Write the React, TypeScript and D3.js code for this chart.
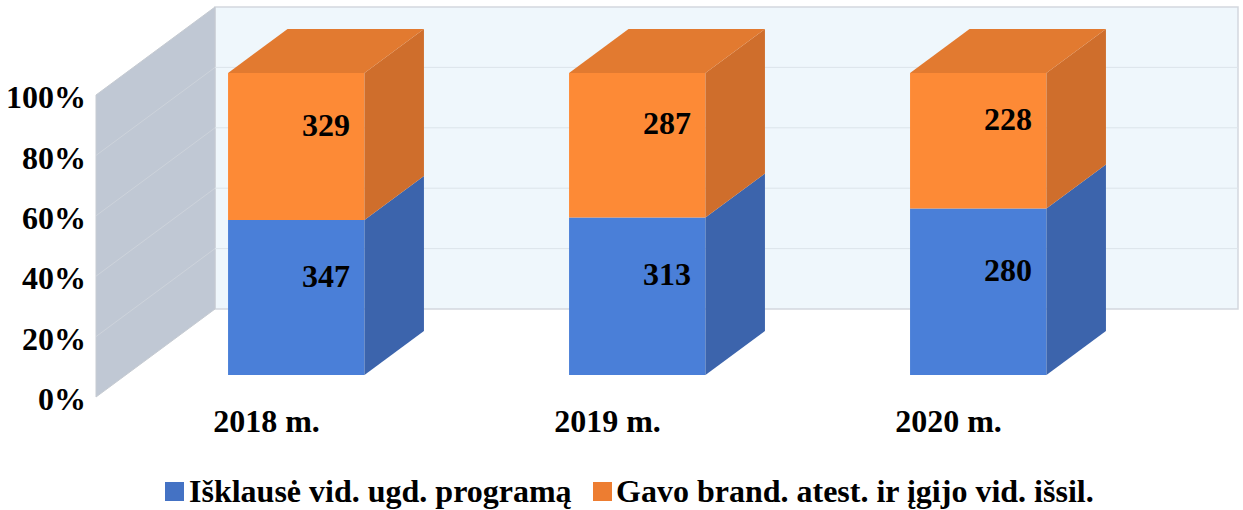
import React from 'react'
import * as d3 from 'd3'

const categories = ['2018 m.', '2019 m.', '2020 m.']
const completedProgram = [347, 313, 280]
const gotCertificate = [329, 287, 228]
const seriesNames = ['Išklausė vid. ugd. programą', 'Gavo brand. atest. ir įgijo vid. išsil.']
const yTicks = [0, 0.2, 0.4, 0.6, 0.8, 1]

const W = 1243
const H = 510
// oblique depth of the whole plot box (z = 0 front, z = 1 back)
const depthX = 119
const depthY = 88
const barZ0 = 0.25
const barZ1 = 0.75

const colors = {
  blue: { front: '#4A7FD8', side: '#3C64AC', top: '#4373C4' },
  orange: { front: '#FD8A36', side: '#CF6E2C', top: '#E27A30' },
}

const txt = { fontFamily: 'Liberation Serif', fontWeight: 700, fontSize: '32px', fill: '#000' }

const App = () => {
  const x = d3.scaleBand<string>()
      .domain(categories)
      .range([96, 1119])
      .paddingInner(0.6)
      .paddingOuter(0.3)
  const y = d3.scaleLinear().domain([0, 1]).range([397, 95])

  const proj = (px: number, py: number, z: number): [number, number] => [px + z * depthX, py - z * depthY]
  const poly = (pts: [number, number][]) => pts.map(p => p.join(',')).join(' ')

  const table = categories.map((c, i) => ({ cat: c, a: completedProgram[i], b: gotCertificate[i] }))
  const stacked = d3.stack<any>().keys(['a', 'b']).offset(d3.stackOffsetExpand)(table)
  const raw = [completedProgram, gotCertificate]
  const pal = [colors.blue, colors.orange]

  const x0 = x.range()[0]
  const x1 = x.range()[1]

  return (
      <svg width={W} height={H} style={{ position: 'absolute', left: 0, top: 0, background: '#fff' }}>
        {/* back wall */}
        <polygon
            points={poly([proj(x0, y(0), 1), proj(x1, y(0), 1), proj(x1, y(1), 1), proj(x0, y(1), 1)])}
            fill="#EFF7FC" stroke="#D3D8DE" strokeWidth={1.5}
        />
        {/* left wall */}
        <polygon
            points={poly([proj(x0, y(0), 0), proj(x0, y(0), 1), proj(x0, y(1), 1), proj(x0, y(1), 0)])}
            fill="#C0C8D4" stroke="#C6CBD2" strokeWidth={1}
        />
        {yTicks.slice(1, -1).map(t => (
            <g key={t}>
              <line
                  x1={proj(x0, y(t), 0)[0]} y1={proj(x0, y(t), 0)[1]}
                  x2={proj(x0, y(t), 1)[0]} y2={proj(x0, y(t), 1)[1]}
                  stroke="#CDD3DB" strokeWidth={1}
              />
              <line
                  x1={proj(x0, y(t), 1)[0]} y1={proj(x0, y(t), 1)[1]}
                  x2={proj(x1, y(t), 1)[0]} y2={proj(x1, y(t), 1)[1]}
                  stroke="#DCE4EA" strokeWidth={1}
              />
            </g>
        ))}

        {/* bars */}
        {categories.map((c, i) => {
          const bx0 = x(c)!
          const bx1 = bx0 + x.bandwidth()
          return (
              <g key={c}>
                {stacked.map((s, k) => {
                  const v0 = s[i][0]
                  const v1 = s[i][1]
                  const col = pal[k]
                  return (
                      <g key={k}>
                        <polygon
                            points={poly([proj(bx0, y(v0), barZ0), proj(bx1, y(v0), barZ0), proj(bx1, y(v1), barZ0), proj(bx0, y(v1), barZ0)])}
                            fill={col.front}
                        />
                        <polygon
                            points={poly([proj(bx1, y(v0), barZ0), proj(bx1, y(v0), barZ1), proj(bx1, y(v1), barZ1), proj(bx1, y(v1), barZ0)])}
                            fill={col.side}
                        />
                        {k === stacked.length - 1 && (
                            <polygon
                                points={poly([proj(bx0, y(v1), barZ0), proj(bx1, y(v1), barZ0), proj(bx1, y(v1), barZ1), proj(bx0, y(v1), barZ1)])}
                                fill={col.top}
                            />
                        )}
                      </g>
                  )
                })}
                {stacked.map((s, k) => {
                  const zc = (barZ0 + barZ1) / 2
                  const [lx, ly] = proj((bx0 + bx1) / 2, y((s[i][0] + s[i][1]) / 2), zc)
                  return (
                      <text key={'l' + k} x={lx} y={ly} dy="0.35em" textAnchor="middle" style={txt}>
                        {raw[k][i]}
                      </text>
                  )
                })}
              </g>
          )
        })}

        {/* y axis labels */}
        {yTicks.map(t => (
            <text key={t} x={86} y={y(t) + 2} dy="0.35em" textAnchor="end" style={txt}>
              {d3.format('.0%')(t)}
            </text>
        ))}

        {/* x axis labels */}
        {categories.map(c => (
            <text key={c} x={x(c)! + x.bandwidth() / 2} y={432} textAnchor="middle" style={txt}>
              {c}
            </text>
        ))}

        {/* legend */}
        <g>
          <rect x={165} y={482} width={19} height={19} fill="#4472C4" />
          <text x={189} y={502} style={txt}>{seriesNames[0]}</text>
          <rect x={593} y={482} width={19} height={19} fill="#ED7D31" />
          <text x={616} y={502} style={txt}>{seriesNames[1]}</text>
        </g>
      </svg>
  )
}

export default App
